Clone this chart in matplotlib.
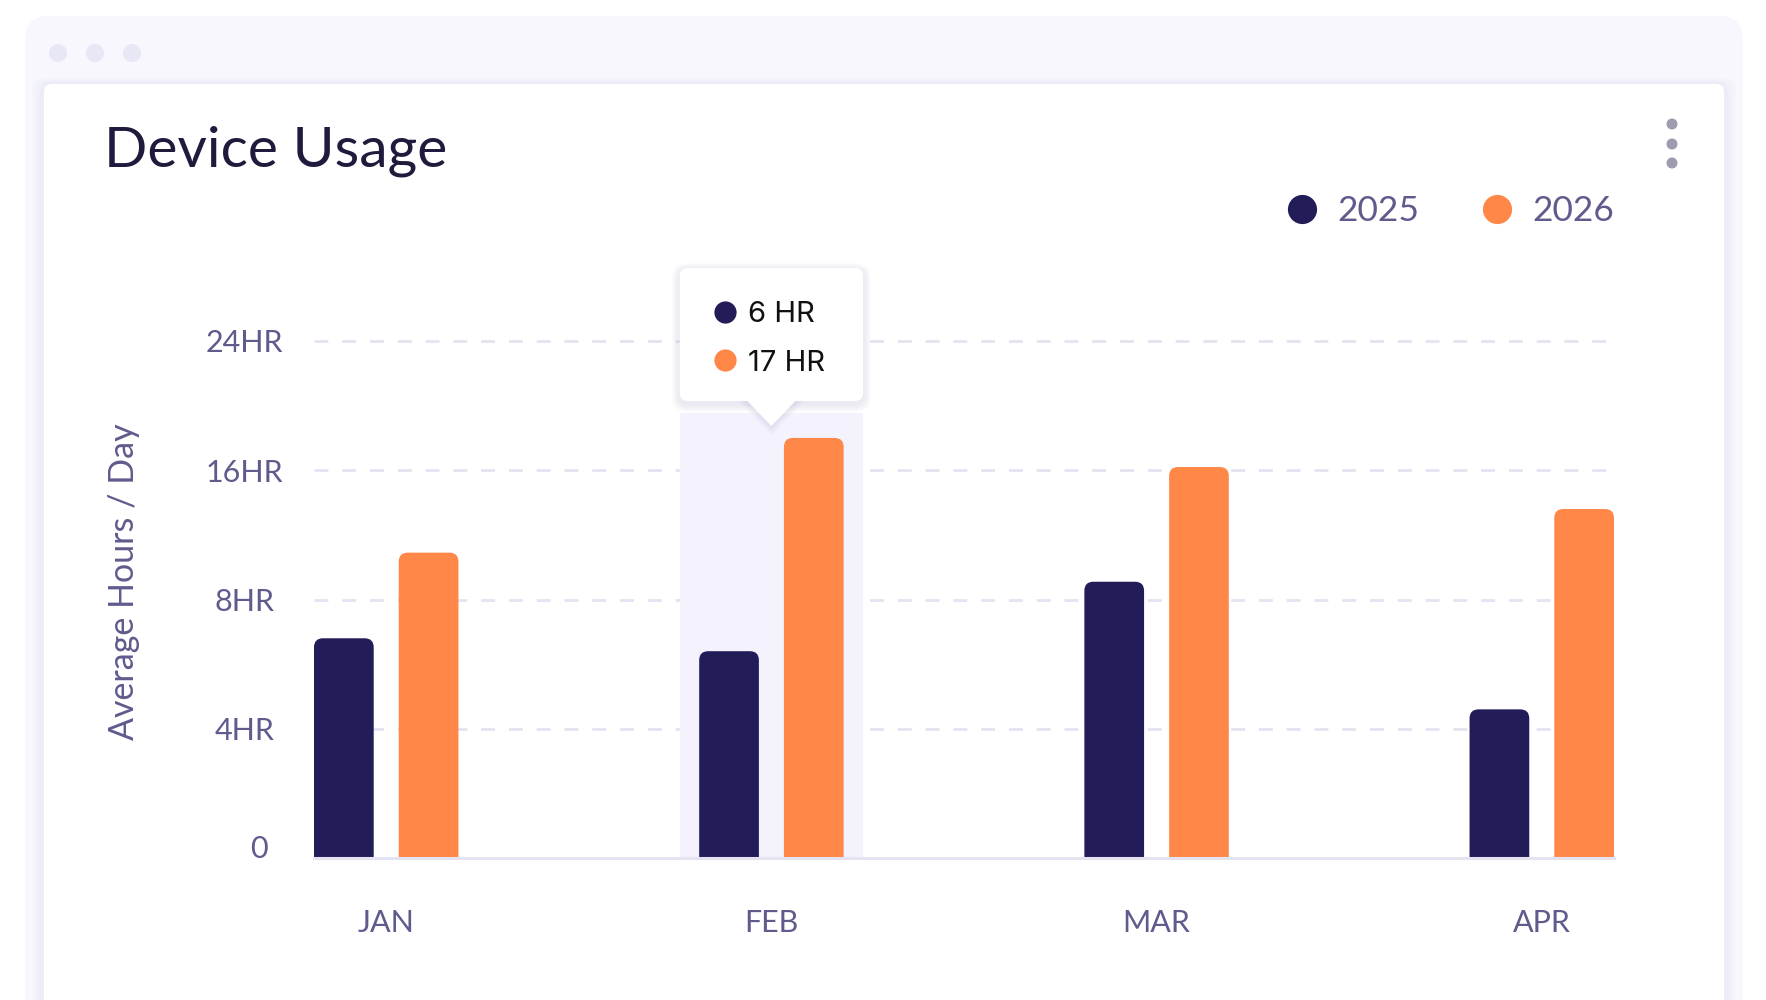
import matplotlib.pyplot as plt
import numpy as np
from matplotlib.patches import FancyBboxPatch, Polygon, Circle, PathPatch
from matplotlib.path import Path
from matplotlib.transforms import IdentityTransform, blended_transform_factory, ScaledTranslation
from matplotlib.lines import Line2D

plt.rcParams['font.family'] = ['Lato', 'DejaVu Sans']

# data
months = ['JAN', 'FEB', 'MAR', 'APR']
series = ['2025', '2026']
hours_2025 = [6.8, 6.4, 9.1, 4.6]
hours_2026 = [10.9, 18.0, 16.2, 13.6]
y_ticks = [0, 4, 8, 16, 24]
y_tick_labels = ['0', '4HR', '8HR', '16HR', '24HR']
tooltip_month = 'FEB'
tooltip_values = [6, 17]

navy = '#221C58'
orange = '#FF8747'
colors = [navy, orange]
muted = '#5F5B8C'
grid_c = '#E4E3F1'

fig = plt.figure(figsize=(17.66, 10), dpi=100)

# background "window" in pixel coords
bg = fig.add_axes([0, 0, 1, 1], zorder=0)
bg.set_xlim(0, 1766)
bg.set_ylim(1000, 0)
bg.axis('off')
bg.add_patch(FancyBboxPatch((25, 16), 1718, 1100, boxstyle='round,pad=0,rounding_size=24',
                            fc='#F7F7FD', ec='none'))
for cx in [58, 95, 132]:
    bg.add_patch(Circle((cx, 53), 9, fc='#E7E7F6', ec='none'))
for i in range(1, 7):
    bg.add_patch(FancyBboxPatch((44 - i * 2, 84 - i), 1680 + i * 4, 1000,
                                boxstyle='round,pad=0,rounding_size=10',
                                fc='#CFCDEB', ec='none', alpha=0.03))
bg.add_patch(FancyBboxPatch((44, 84), 1680, 1000, boxstyle='round,pad=0,rounding_size=8',
                            fc='white', ec='none'))
bg.text(104, 151, 'Device Usage', fontsize=41, color='#1F1B3D', va='center', ha='left')
for cy in [124, 144, 163]:
    bg.add_patch(Circle((1672, cy), 5.5, fc='#9D9BAF', ec='none'))

# main chart
ax = fig.add_axes([314 / 1766, 0.142, 1300 / 1766, 0.517], zorder=1)
ax.patch.set_alpha(0)

steps = np.arange(len(y_ticks))


def fwd(v):
    return np.interp(v, y_ticks, steps)


def inv(s):
    return np.interp(s, steps, y_ticks)


ax.set_yscale('function', functions=(fwd, inv))
ax.set_ylim(0, 24)
ax.set_xlim(-0.1875, 3.1875)

x = np.arange(len(months))
bars1 = ax.bar(x - 0.11, hours_2025, width=0.155, color=navy, zorder=3)
bars2 = ax.bar(x + 0.11, hours_2026, width=0.155, color=orange, zorder=3)

idx = months.index(tooltip_month)
ax.axvspan(idx - 0.238, idx + 0.238, ymin=0, ymax=0.861, fc='#F3F2FD', ec='none', zorder=1)

ax.set_yticks(y_ticks, y_tick_labels)
ax.set_xticks(x, months)
ax.tick_params(axis='both', length=0, labelsize=22, labelcolor=muted)
ax.tick_params(axis='y', pad=50)
ax.tick_params(axis='x', pad=37)
for lab in ax.get_yticklabels():
    lab.set_horizontalalignment('center')
zero_lab = ax.yaxis.get_major_ticks()[0].label1
zero_lab.set_transform(zero_lab.get_transform() + ScaledTranslation(10 / 72, 8 / 72, fig.dpi_scale_trans))

ax.yaxis.grid(True, color=grid_c, lw=2, linestyle=(0, (5, 5)))
ax.set_axisbelow(True)
for gl in ax.get_ygridlines():
    gl.set_clip_on(False)
for s in ['top', 'left', 'right']:
    ax.spines[s].set_visible(False)
ax.spines['bottom'].set_color(grid_c)
ax.spines['bottom'].set_linewidth(2.2)
ax.spines['bottom'].set_zorder(4)

ax.set_ylabel('Average Hours / Day', fontsize=24.5, color=muted)
ax.yaxis.set_label_coords(-0.134, 0.534)

handles = [Line2D([], [], marker='o', ls='', ms=21, mfc=c, mec='none') for c in colors]
fig.legend(handles, series, loc='center right', bbox_to_anchor=(1614 / 1766, 1 - 211 / 1000),
           ncol=2, frameon=False, fontsize=25.5, handlelength=1.0, handletextpad=0.5,
           columnspacing=1.7, borderpad=0, borderaxespad=0, labelcolor=muted)

fig.canvas.draw()


def top_rounded(bb, r):
    x0, y0, x1, y1 = bb.x0, bb.y0, bb.x1, bb.y1
    r = min(r, (x1 - x0) / 2, y1 - y0)
    verts = [(x0, y0), (x1, y0), (x1, y1 - r), (x1, y1), (x1 - r, y1),
             (x0 + r, y1), (x0, y1), (x0, y1 - r), (x0, y0)]
    codes = [Path.MOVETO, Path.LINETO, Path.LINETO, Path.CURVE3, Path.CURVE3,
             Path.LINETO, Path.CURVE3, Path.CURVE3, Path.CLOSEPOLY]
    return Path(verts, codes)


# rounded tops on the bars
for rect in list(bars1) + list(bars2):
    bb = rect.get_window_extent()
    ax.add_patch(PathPatch(top_rounded(bb, 9), fc=rect.get_facecolor(), ec='none',
                           transform=IdentityTransform(), zorder=3))
    rect.set_visible(False)

# tooltip
blend = blended_transform_factory(ax.transData, ax.transAxes)
x0, yb = blend.transform((idx - 0.238, 0.884))
x1, yt = blend.transform((idx + 0.238, 1.141))
cx, ytip = blend.transform((idx, 0.836))
w, h = x1 - x0, yt - yb
for i in range(1, 9):
    ax.add_patch(FancyBboxPatch((x0 - i, yb - i - 3), w + 2 * i, h + 2 * i,
                                boxstyle=f'round,pad=0,rounding_size={8 + i}',
                                fc='#4B47A0', ec='none', alpha=0.012,
                                transform=IdentityTransform(), zorder=5, clip_on=False))
    ax.add_patch(Polygon([(cx - 26 - i, yb), (cx, ytip - i - 2), (cx + 26 + i, yb)],
                         fc='#4B47A0', ec='none', alpha=0.012,
                         transform=IdentityTransform(), zorder=5, clip_on=False))
ax.add_patch(FancyBboxPatch((x0, yb), w, h, boxstyle='round,pad=0,rounding_size=8',
                            fc='white', ec='none', transform=IdentityTransform(),
                            zorder=6, clip_on=False))
ax.add_patch(Polygon([(cx - 26, yb + 2), (cx, ytip), (cx + 26, yb + 2)], fc='white', ec='none',
                     transform=IdentityTransform(), zorder=6, clip_on=False))

for val, c, yf in zip(tooltip_values, colors, [1.057, 0.963]):
    ax.plot([idx - 0.12], [yf], 'o', ms=16, color=c, mec='none', transform=blend,
            clip_on=False, zorder=7)
    ax.text(idx - 0.06, yf, f'{val} HR', transform=blend, fontsize=21, color='#111111',
            va='center_baseline', ha='left', family=['Inter', 'DejaVu Sans'], zorder=7)

fig.savefig('out.png', dpi=100)
